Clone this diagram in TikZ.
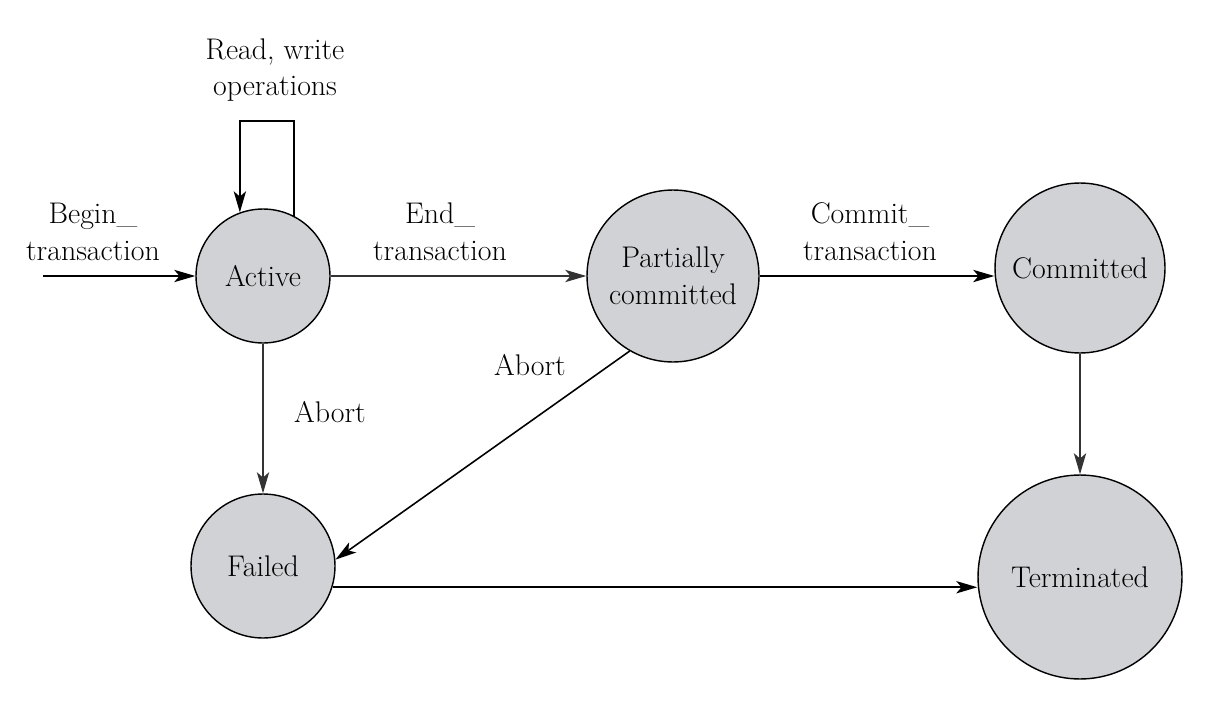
\documentclass[tikz,border=0pt]{standalone}
\tikzset{
every picture/.style={
line width=0.9pt
}}
\usetikzlibrary{arrows.meta}
\definecolor{stategray}{RGB}{209,210,213}

\begin{document}
\begin{tikzpicture}[x=0.02cm, y=-0.02cm,
>={Stealth[length=12pt,width=7pt,inset=3pt]},
every node/.style = {font=\fontsize{17}{21}\selectfont},
state/.style = {circle, draw=black, line width=0.8pt, fill=stategray, inner sep=0pt, align=center},
lbl/.style = {align=center}]
\useasboundingbox (0,0) rectangle (1210,710);

\node[state, minimum size=2.68cm] (act) at (263,276) {Active};
\node[state, minimum size=3.44cm] (part) at (673,276) {Partially\\committed};
\node[state, minimum size=3.4cm] (comm) at (1080,268) {Committed};
\node[state, minimum size=2.88cm] (fail) at (263,566) {Failed};
\node[state, minimum size=4.08cm] (term) at (1080,577) {Terminated};

\node[lbl] (rwlbl) at (275,70) {Read, write\\operations};
\node[lbl] (beginlbl) at (93,232) {Begin\_\\transaction};
\node[lbl] (endlbl) at (440,232) {End\_\\transaction};
\node[lbl] (commitlbl) at (870,232) {Commit\_\\transaction};
\node (abortact) at (330,412) {Abort};
\node (abortpart) at (530,365) {Abort};

\coordinate (start) at (43,276);
\coordinate (rw) at (266,121);

\draw [->] (start) -- (act);
\draw [->] (act.63) |- (rw) -| (act.110);
\draw [->, black!80] (act) -- (part);
\draw [->] (part.east) -- (part.east -| comm.west);
\draw [->, black!80] (act) -- (fail);
\draw [->] (part.240) -- (fail.5);
\draw [->, black!80] (comm) -- (term);
\draw [->] (fail.-17) -- (fail.-17 -| term.west);
\end{tikzpicture}
\end{document}
